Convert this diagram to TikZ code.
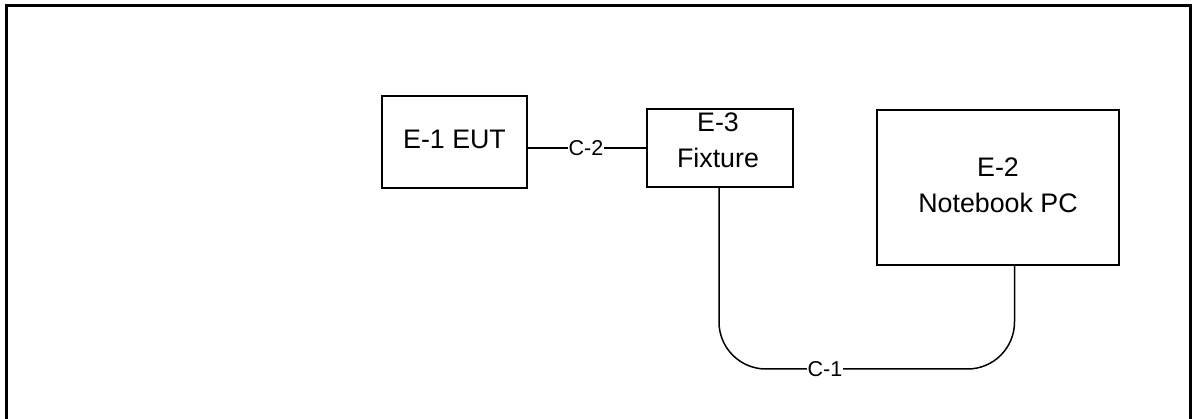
\documentclass[tikz,border=0pt]{standalone}
\usepackage{fontspec}
\setmainfont{Liberation Sans}
\begin{document}
\begin{tikzpicture}[x=1pt,y=-1pt,
  box/.style={draw=black, line width=1.5pt, inner sep=0pt},
  boxtext/.style={inner sep=0pt, align=center, anchor=north, font=\fontsize{26.8}{36}\selectfont},
  cable/.style={draw=black, line width=1.5pt},
  cablelabel/.style={fill=white, inner sep=0.6pt, font=\fontsize{21.5}{24}\selectfont},
  frame/.style={draw=black, line width=2.4pt}]
\useasboundingbox (0,0) rectangle (1192,419);
% outer frame (bottom edge outside the picture)
\draw[frame] (6.5,425) -- (6.5,5.5) -- (1190.5,5.5) -- (1190.5,425);
% equipment boxes
\node[box, minimum width=145pt, minimum height=92pt] (e1) at (454.5,142) {};
\node[box, minimum width=146pt, minimum height=78pt] (e3) at (720,148) {};
\node[box, minimum width=242pt, minimum height=155pt] (e2) at (998,187.5) {};
% box texts
\node[boxtext] (t1) at (454.5,130) {E-1 EUT};
\node[boxtext] (t3) at (718,113) {E-3\\Fixture};
\node[boxtext] (t2) at (998,158) {E-2\\Notebook PC};
% cable C-2
\coordinate (c2) at (586,148);
\draw[cable] (e1.east |- c2) -- (e3.west |- c2);
\node[cablelabel] (l2) at (c2) {C-2};
% cable C-1
\coordinate (c1l) at (719,369);
\coordinate (c1r) at (1014.5,369);
\draw[cable, rounded corners=47pt] (e3.south -| c1l) -- (c1l) -- (c1r) -- (e2.south -| c1r);
\node[cablelabel] (l1) at (825,369) {C-1};
\end{tikzpicture}
\end{document}
